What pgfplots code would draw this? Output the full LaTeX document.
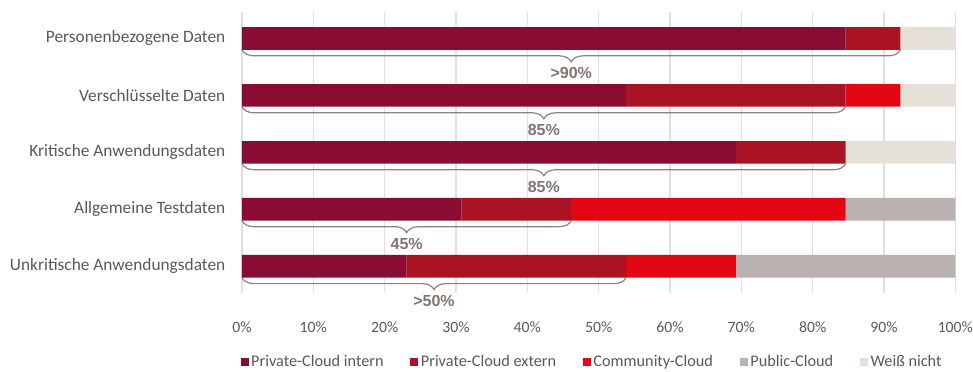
\documentclass[border=0pt]{standalone}
\usepackage{fontspec}
\setmainfont{Carlito}
\newfontfamily\labfont{Liberation Sans}
\usepackage{pgfplots}
\pgfplotsset{compat=1.18}
\usetikzlibrary{decorations.pathreplacing}
\definecolor{cIntern}{HTML}{890C32}
\definecolor{cExtern}{HTML}{A91324}
\definecolor{cComm}{HTML}{E30613}
\definecolor{cPublic}{HTML}{BAB2B0}
\definecolor{cWN}{HTML}{E6E1D8}
\definecolor{txt}{HTML}{595959}
\definecolor{brc}{HTML}{8C8280}
\definecolor{brt}{HTML}{7F7470}
\definecolor{gridc}{HTML}{E0E0E0}
\begin{document}
\begin{tikzpicture}
\begin{axis}[
  width=535pt, height=211pt, scale only axis,
  xbar stacked, bar width=17pt,
  xmin=0, xmax=100, ymin=-0.47, ymax=4.47,
  y dir=reverse,
  axis line style={draw=none},
  xtick={0,10,...,100},
  xticklabels={0\%,10\%,20\%,30\%,40\%,50\%,60\%,70\%,80\%,90\%,100\%},
  ytick={0,1,2,3,4},
  yticklabels={Personenbezogene Daten,Verschlüsselte Daten,Kritische Anwendungsdaten,Allgemeine Testdaten,Unkritische Anwendungsdaten},
  major tick length=0pt,
  xmajorgrids, grid style={gridc, line width=0.8pt},
  ticklabel style={text=txt},
  xticklabel style={font=\fontsize{11.8}{13}\selectfont, yshift=-18pt},
  yticklabel style={font=\fontsize{13}{15}\selectfont, xshift=-9pt},
  clip=false,
  legend columns=5,
  legend style={draw=none, at={(-0.008,-0.245)}, anchor=west, font=\fontsize{12.2}{14}\selectfont, text=txt,
    /tikz/every even column/.append style={column sep=18pt}},
  legend image code/.code={\fill[#1] (0pt,-3pt) rectangle (6pt,3pt);},
  every axis plot/.append style={draw=none},
]
\addplot[fill=cIntern] coordinates {(84.62,0) (53.85,1) (69.23,2) (30.77,3) (23.08,4)};
\addplot[fill=cExtern] coordinates {(7.69,0) (30.77,1) (15.38,2) (15.38,3) (30.77,4)};
\addplot[fill=cComm] coordinates {(0,0) (7.69,1) (0,2) (38.46,3) (15.38,4)};
\addplot[fill=cPublic] coordinates {(0,0) (0,1) (0,2) (15.38,3) (30.77,4)};
\addplot[fill=cWN] coordinates {(7.69,0) (7.69,1) (15.38,2) (0,3) (0,4)};
\legend{Private-Cloud intern,Private-Cloud extern,Community-Cloud,Public-Cloud,Weiß nicht}
\tikzset{br/.style={draw=brc, line width=0.9pt, decorate, decoration={brace, mirror, amplitude=9pt}},
  bl/.style={font=\labfont\bfseries\fontsize{12}{14}\selectfont, text=brt, yshift=-17.5pt}}
\draw[br] (axis cs:0,0.2) -- (axis cs:92.31,0.2);
\node[bl] at (axis cs:46.15,0.2) {>90\%};
\draw[br] (axis cs:0,1.2) -- (axis cs:84.62,1.2);
\node[bl] at (axis cs:42.31,1.2) {85\%};
\draw[br] (axis cs:0,2.2) -- (axis cs:84.62,2.2);
\node[bl] at (axis cs:42.31,2.2) {85\%};
\draw[br] (axis cs:0,3.2) -- (axis cs:46.15,3.2);
\node[bl] at (axis cs:23.08,3.2) {45\%};
\draw[br] (axis cs:0,4.2) -- (axis cs:53.85,4.2);
\node[bl] at (axis cs:26.92,4.2) {>50\%};
\end{axis}
\pgfresetboundingbox
\path ([shift={(-181.5pt,-58.5pt)}]current axis.south west) rectangle ([shift={(548.25pt,219.75pt)}]current axis.south west);
\end{tikzpicture}
\end{document}
